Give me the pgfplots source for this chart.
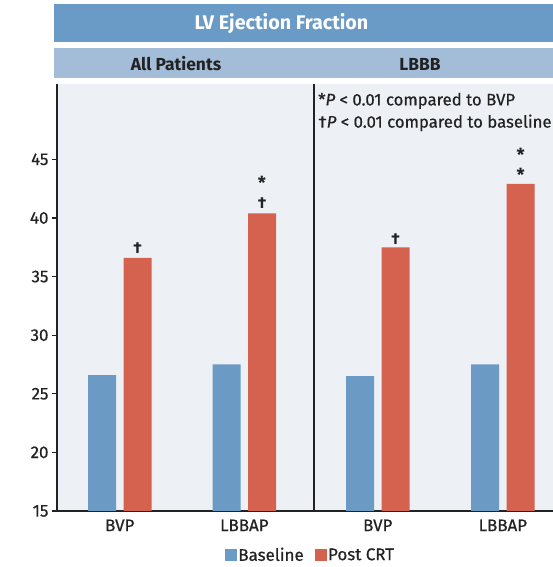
\documentclass[border=0pt]{standalone}
\usepackage{pgfplots}
\pgfplotsset{compat=1.18}
\usepackage{fontspec}
\setmainfont{Fira Sans}
\newfontfamily\medfont{Fira Sans}[FakeBold=0.6]

\definecolor{hdrA}{HTML}{6A9BC7}
\definecolor{hdrB}{HTML}{A3BDD9}
\definecolor{panel}{HTML}{EDF0F5}
\definecolor{base}{HTML}{6B9AC4}
\definecolor{post}{HTML}{D4624F}
\definecolor{ink}{HTML}{222222}

\newcommand{\fs}[1]{\fontsize{#1}{#1}\selectfont}

\begin{document}
\begin{tikzpicture}[x=1bp,y=1bp]
\useasboundingbox (0,0) rectangle (553,567);

% header bands
\fill[hdrA] (54,524.7) rectangle (560,562.7);
\node[white, font=\bfseries\fs{19.8}] at (281.5,543.7) {LV Ejection Fraction};
\fill[hdrB] (54,488.7) rectangle (560,518.7);
\node[ink, font=\bfseries\fs{17.5}] at (176,503) {All Patients};
\node[ink, font=\bfseries\fs{17.5}] at (420,503) {LBBB};

\begin{axis}[
  at={(57bp,56bp)}, anchor=south west,
  scale only axis, width=496bp, height=427bp,
  xmin=57, xmax=553, ymin=15, ymax=51.43,
  axis lines*=left,
  axis line style={ink, line width=1.4bp},
  axis background/.style={fill=panel},
  ytick={15,20,...,45},
  xtick={119.75,244.35,377.75,502.85},
  xticklabels={BVP,LBBAP,BVP,LBBAP},
  x tick style={draw=none},
  y tick style={ink, line width=1.2bp},
  tick align=outside, major tick length=5bp,
  tick label style={font=\medfont\fs{17}, text=ink},
  /pgf/number format/assume math mode=true,
  clip=false,
  legend style={at={(axis description cs:0.511,-0.103)}, anchor=center,
    draw=none, fill=none, font=\medfont\fs{17}, text=ink,
    /tikz/every even column/.style={column sep=9bp}},
  legend columns=2,
]
% all patients
\addplot[ybar, bar width=28, bar shift=0pt, fill=base, draw=none, forget plot]
  coordinates {(102,26.6) (226.7,27.5)};
\addplot[ybar, bar width=28, bar shift=0pt, fill=post, draw=none, forget plot]
  coordinates {(137.5,36.6) (262,40.4)};
% LBBB
\addplot[ybar, bar width=28, bar shift=0pt, fill=base, draw=none, forget plot]
  coordinates {(360,26.5) (485,27.5)};
\addplot[ybar, bar width=28, bar shift=0pt, fill=post, draw=none, forget plot]
  coordinates {(395.5,37.5) (520.7,42.9)};

\addlegendimage{legend image code/.code={\fill[base] (0bp,-5.5bp) rectangle (11bp,5.5bp);}}
\addlegendentry{Baseline}
\addlegendimage{legend image code/.code={\fill[post] (0bp,-5.5bp) rectangle (11bp,5.5bp);}}
\addlegendentry{Post CRT}

% panel divider
\draw[ink, line width=1.4bp] (axis cs:314,15) -- (axis cs:314,51.43);

% significance marks
\node[ink, font=\bfseries\fs{16}] at (axis cs:137.5,37.44) {†};
\node[ink, font=\bfseries\fs{16}] at (axis cs:262,41.28) {†};
\node[ink, font=\bfseries\fs{18}] at (axis cs:262,43.0) {*};
\node[ink, font=\bfseries\fs{16}] at (axis cs:395.5,38.2) {†};
\node[ink, font=\bfseries\fs{18}] at (axis cs:520.7,43.7) {*};
\node[ink, font=\bfseries\fs{18}] at (axis cs:520.7,45.4) {*};
\end{axis}

% footnote text
\node[ink, anchor=mid west, font=\medfont\fs{16.8}, inner sep=0pt] at (318,464.2)
  {*\textit{P} < 0.01 compared to BVP};
\node[ink, anchor=mid west, font=\medfont\fs{16.8}, inner sep=0pt] at (318,442)
  {†\textit{P} < 0.01 compared to baseline};
\end{tikzpicture}
\end{document}
